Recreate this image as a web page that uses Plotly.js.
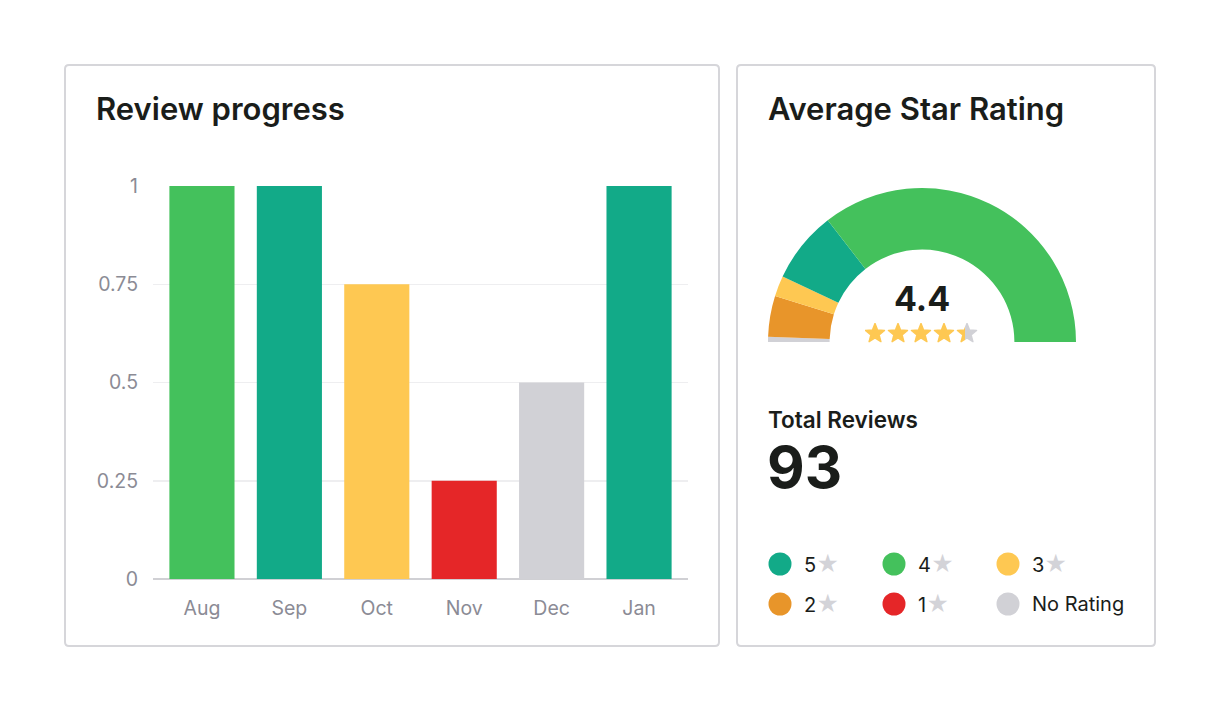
<!DOCTYPE html>
<html>
<head>
<meta charset="utf-8">
<script src="https://cdn.plot.ly/plotly-3.0.1.min.js"></script>
<style>
  html, body { margin: 0; padding: 0; background: #fff; }
  #chart { width: 1220px; height: 712px; }
</style>
</head>
<body>
<div id="chart"></div>
<script>
// Review progress per month
const months = ['Aug', 'Sep', 'Oct', 'Nov', 'Dec', 'Jan'];
const progress = [1, 1, 0.75, 0.25, 0.5, 1];
const barColors = ['#44c15c', '#12aa88', '#fec852', '#e52628', '#d1d1d6', '#12aa88'];
const progressTicks = [0, 0.25, 0.5, 0.75, 1];
const progressTickText = ['0', '0.25', '0.5', '0.75', '1'];

// Star rating breakdown
const ratingNames = ['5', '4', '3', '2', '1', 'No Rating'];
const ratingCounts = [14, 66, 4, 8, 0, 1];
const ratingColors = ['#12aa88', '#44c15c', '#fec852', '#e8952a', '#e52628', '#d1d1d6'];
const gaugeOrder = ['No Rating', '1', '2', '3', '5', '4']; // left to right on the arc
const averageRating = 4.4;
const totalReviews = 93;

const W = 1220, H = 712;
const px = x => x / W;
const py = y => 1 - y / H;
const FONT = 'Inter, "Noto Sans", sans-serif';
const DARK = '#1a1d1a';

// rounded card outline
function card(x0, y0, x1, y1, r) {
  const p = (x, y) => px(x) + ',' + py(y);
  const path = 'M' + p(x0 + r, y0) + ' L' + p(x1 - r, y0) + ' Q' + p(x1, y0) + ' ' + p(x1, y0 + r) +
    ' L' + p(x1, y1 - r) + ' Q' + p(x1, y1) + ' ' + p(x1 - r, y1) +
    ' L' + p(x0 + r, y1) + ' Q' + p(x0, y1) + ' ' + p(x0, y1 - r) +
    ' L' + p(x0, y0 + r) + ' Q' + p(x0, y0) + ' ' + p(x0 + r, y0) + ' Z';
  return { type: 'path', xref: 'paper', yref: 'paper', path: path,
    line: { color: '#d6d6da', width: 2 }, layer: 'below' };
}

// text placed by pixel; left-anchored labels lose ~3px to annotation padding
function label(x, y, text, size, weight, color, xanchor) {
  const anchor = xanchor || 'left';
  return { xref: 'paper', yref: 'paper', x: px(anchor === 'left' ? x - 3 : x), y: py(y),
    text: text, showarrow: false, xanchor: anchor, yanchor: 'middle',
    font: { family: FONT, size: size, color: color || DARK, weight: weight || 400 } };
}

// star row svg, filled according to rating
function starRow(value) {
  const pts = [];
  for (let i = 0; i < 10; i++) {
    const a = -Math.PI / 2 + i * Math.PI / 5;
    const r = i % 2 === 0 ? 10 : 4.3;
    pts.push((10 + r * Math.cos(a)).toFixed(2) + ',' + (10.5 + r * Math.sin(a)).toFixed(2));
  }
  let svg = '<svg xmlns="http://www.w3.org/2000/svg" width="113" height="21" viewBox="0 0 113 21">';
  for (let s = 0; s < 5; s++) {
    const f = Math.max(0, Math.min(1, value - s));
    svg += '<defs><linearGradient id="g' + s + '"><stop offset="' + f + '" stop-color="#fec852"/>' +
      '<stop offset="' + f + '" stop-color="#d1d1d6"/></linearGradient></defs>';
    svg += '<polygon transform="translate(' + (s * 23) + ',0)" points="' + pts.join(' ') +
      '" fill="url(#g' + s + ')" stroke="url(#g' + s + ')" stroke-width="1.5" stroke-linejoin="round"/>';
  }
  svg += '</svg>';
  return 'data:image/svg+xml;charset=utf-8,' + encodeURIComponent(svg);
}

const gaugeValues = gaugeOrder.map(n => ratingCounts[ratingNames.indexOf(n)]);
const gaugeColors = gaugeOrder.map(n => ratingColors[ratingNames.indexOf(n)]);
const gaugeTotal = gaugeValues.reduce((a, b) => a + b, 0);

const barTrace = {
  type: 'bar', x: months, y: progress,
  marker: { color: barColors, line: { width: 0 } },
  width: 0.745, hoverinfo: 'x+y', xaxis: 'x', yaxis: 'y'
};

const gaugeTrace = {
  type: 'pie',
  values: gaugeValues.concat([gaugeTotal]),
  labels: gaugeOrder.concat(['hidden']),
  marker: { colors: gaugeColors.concat(['rgba(0,0,0,0)']), line: { width: 0 } },
  hole: 0.6, sort: false, direction: 'clockwise', rotation: -90,
  textinfo: 'none', hoverinfo: 'skip', showlegend: false,
  domain: { x: [px(768), px(1076)], y: [py(496), py(188)] }
};

const annotations = [
  label(97, 108, 'Review progress', 31, 600),
  label(769, 108, 'Average Star Rating', 31, 600),
  label(922, 298, String(averageRating), 34, 700, DARK, 'center'),
  label(769, 419, 'Total Reviews', 22.5, 600),
  label(768, 467, String(totalReviews), 58, 700)
];

const shapes = [card(65, 65, 719, 646, 4), card(737, 65, 1155, 646, 4)];

ratingNames.forEach((name, i) => {
  const row = Math.floor(i / 3), col = i % 3;
  const cx = 780 + col * 114, cy = 564 + row * 40;
  shapes.push({ type: 'circle', xref: 'paper', yref: 'paper',
    x0: px(cx - 11.5), x1: px(cx + 11.5), y0: py(cy + 11.5), y1: py(cy - 11.5),
    fillcolor: ratingColors[i], line: { width: 0 } });
  const txt = name === 'No Rating' ? name :
    name + '<span style="color:#d3d3d8;font-size:22px">★</span>';
  annotations.push(label(cx + 25, cy, txt, 20, 400));
});

const layout = {
  width: W, height: H,
  margin: { l: 0, r: 0, t: 0, b: 0 },
  paper_bgcolor: '#fff', plot_bgcolor: 'rgba(0,0,0,0)',
  showlegend: false,
  font: { family: FONT, color: '#8b8b95' },
  xaxis: {
    domain: [px(153), px(688)], range: [-0.56, 5.56],
    showgrid: false, zeroline: false, showline: false, ticks: '',
    tickfont: { size: 19.5, color: '#8b8b95' }, ticklabelstandoff: 15, fixedrange: true
  },
  yaxis: {
    domain: [py(579), py(186)], range: [0, 1],
    tickvals: progressTicks, ticktext: progressTickText,
    showgrid: true, gridcolor: '#eeeef0', gridwidth: 1.5,
    zeroline: true, zerolinecolor: '#d0d0d4', zerolinewidth: 2,
    showline: false, ticks: '',
    tickfont: { size: 19.5, color: '#8b8b95' }, ticklabelstandoff: 14, fixedrange: true
  },
  shapes: shapes,
  annotations: annotations,
  images: [{
    source: starRow(averageRating), xref: 'paper', yref: 'paper',
    x: px(865), y: py(323), sizex: px(978) - px(865), sizey: py(323) - py(344),
    sizing: 'stretch', xanchor: 'left', yanchor: 'top', layer: 'above'
  }]
};

Plotly.newPlot('chart', [barTrace, gaugeTrace], layout, { displayModeBar: false, staticPlot: true });
</script>
</body>
</html>
